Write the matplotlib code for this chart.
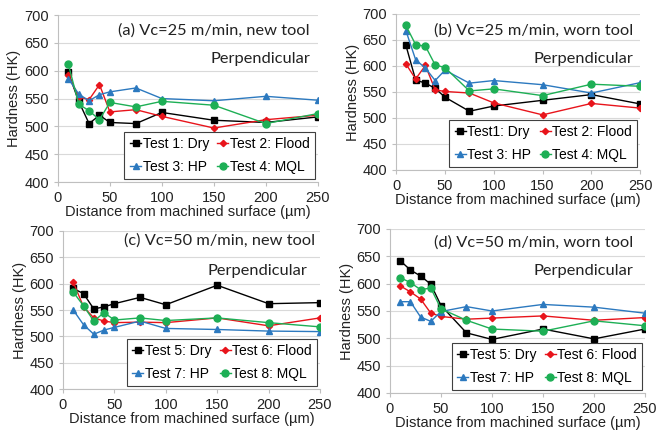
import matplotlib
matplotlib.use("Agg")
import matplotlib.pyplot as plt

depth = [10, 20, 30, 40, 50, 75, 100, 150, 200, 250]

# (a) Vc=25 m/min, new tool
a_dry = [597, 545, 505, 520, 507, 505, 525, 511, 507, 517]
a_flood = [593, 553, 548, 575, 526, 530, 518, 497, 512, 520]
a_hp = [586, 558, 546, 557, 562, 569, 550, 546, 554, 547]
a_mql = [612, 540, 528, 512, 543, 535, 545, 538, 505, 523]

# (b) Vc=25 m/min, worn tool
b_dry = [640, 573, 567, 557, 540, 513, 523, 534, 545, 527]
b_flood = [604, 575, 601, 554, 551, 548, 529, 506, 528, 519]
b_hp = [668, 612, 596, 572, 592, 567, 572, 564, 548, 568]
b_mql = [678, 641, 638, 602, 597, 552, 556, 543, 565, 561]

# (c) Vc=50 m/min, new tool
c_dry = [591, 581, 552, 556, 562, 574, 560, 597, 562, 564]
c_flood = [603, 556, 535, 529, 526, 527, 526, 535, 520, 535]
c_hp = [550, 522, 504, 512, 517, 529, 515, 513, 510, 509]
c_mql = [584, 558, 529, 545, 531, 535, 530, 535, 526, 518]

# (d) Vc=50 m/min, worn tool
d_dry = [642, 625, 614, 599, 560, 510, 498, 517, 499, 517]
d_flood = [596, 585, 572, 546, 540, 535, 537, 541, 533, 538]
d_hp = [567, 567, 539, 531, 549, 558, 550, 562, 557, 546]
d_mql = [611, 602, 589, 592, 554, 533, 517, 513, 532, 523]

titles = ["(a) Vc=25 m/min, new tool", "(b) Vc=25 m/min, worn tool",
          "(c) Vc=50 m/min, new tool", "(d) Vc=50 m/min, worn tool"]
labels_ab = ["Test 1: Dry", "Test 2: Flood", "Test 3: HP", "Test 4: MQL"]
labels_b = ["Test1: Dry", "Test 2: Flood", "Test 3: HP", "Test 4: MQL"]
labels_cd = ["Test 5: Dry", "Test 6: Flood", "Test 7: HP", "Test 8: MQL"]
xticks = [0, 50, 100, 150, 200, 250]
yticks = [400, 450, 500, 550, 600, 650, 700]

plt.rcParams['font.family'] = ['Liberation Sans', 'DejaVu Sans']

fig = plt.figure(figsize=(6.58, 4.37), dpi=100)

positions = [
    [0.088, 0.5835, 0.395, 0.382],
    [0.602, 0.611, 0.371, 0.357],
    [0.0957, 0.1098, 0.3906, 0.3616],
    [0.5927, 0.1007, 0.3875, 0.3753],
]
data = [
    (a_dry, a_flood, a_hp, a_mql),
    (b_dry, b_flood, b_hp, b_mql),
    (c_dry, c_flood, c_hp, c_mql),
    (d_dry, d_flood, d_hp, d_mql),
]
labels = [labels_ab, labels_b, labels_cd, labels_cd]
title_pos = [(0.97, 0.905), (0.971, 0.897), (0.98, 0.94), (0.953, 0.915)]
perp_pos = [(0.97, 0.737), (0.971, 0.71), (0.95, 0.75), (0.953, 0.744)]

colors = ['black', '#E8141B', '#2C79BF', '#1DAF55']
markers = ['s', 'D', '^', 'o']
msizes = [5, 3.2, 4.2, 5]

for i in range(4):
    ax = fig.add_axes(positions[i])
    series = data[i]
    handles = []
    for j in range(4):
        h, = ax.plot(depth, series[j], color=colors[j], marker=markers[j],
                     markersize=msizes[j], linewidth=1.0, label=labels[i][j])
        handles.append(h)
    ax.set_xlim(0, 250)
    ax.set_ylim(400, 700)
    ax.set_xticks(xticks)
    ax.set_yticks(yticks)
    ax.yaxis.grid(True, color='#D9D9D9', linewidth=0.8)
    ax.set_axisbelow(True)
    for s in ['top', 'right']:
        ax.spines[s].set_visible(False)
    for s in ['left', 'bottom']:
        ax.spines[s].set_color('#BFBFBF')
    ax.tick_params(axis='both', labelsize=10.5, colors='#BFBFBF',
                   labelcolor='#222222', length=3)
    ax.set_xlabel("Distance from machined surface (µm)", fontsize=10.5,
                  color='#222222', labelpad=0)
    ax.set_ylabel("Hardness (HK)", fontsize=10.5, color='#222222', labelpad=2)
    ax.text(title_pos[i][0], title_pos[i][1], titles[i], transform=ax.transAxes,
            ha='right', va='center', fontsize=11.8, family=['Lato', 'DejaVu Sans'],
            color='#222222')
    ax.text(perp_pos[i][0], perp_pos[i][1], "Perpendicular", transform=ax.transAxes,
            ha='right', va='center', fontsize=11.8, family=['Lato', 'DejaVu Sans'],
            color='#222222')
    order = [0, 2, 1, 3]
    leg = ax.legend([handles[k] for k in order], [labels[i][k] for k in order],
                    loc='lower right', ncol=2, fontsize=10, frameon=True,
                    fancybox=False, edgecolor='#404040', framealpha=1,
                    handlelength=0.8, handletextpad=0.1, columnspacing=0.6,
                    borderpad=0.4, labelspacing=0.6, borderaxespad=0.2)
    leg.get_frame().set_linewidth(0.8)

fig.savefig("out.png", dpi=100)
